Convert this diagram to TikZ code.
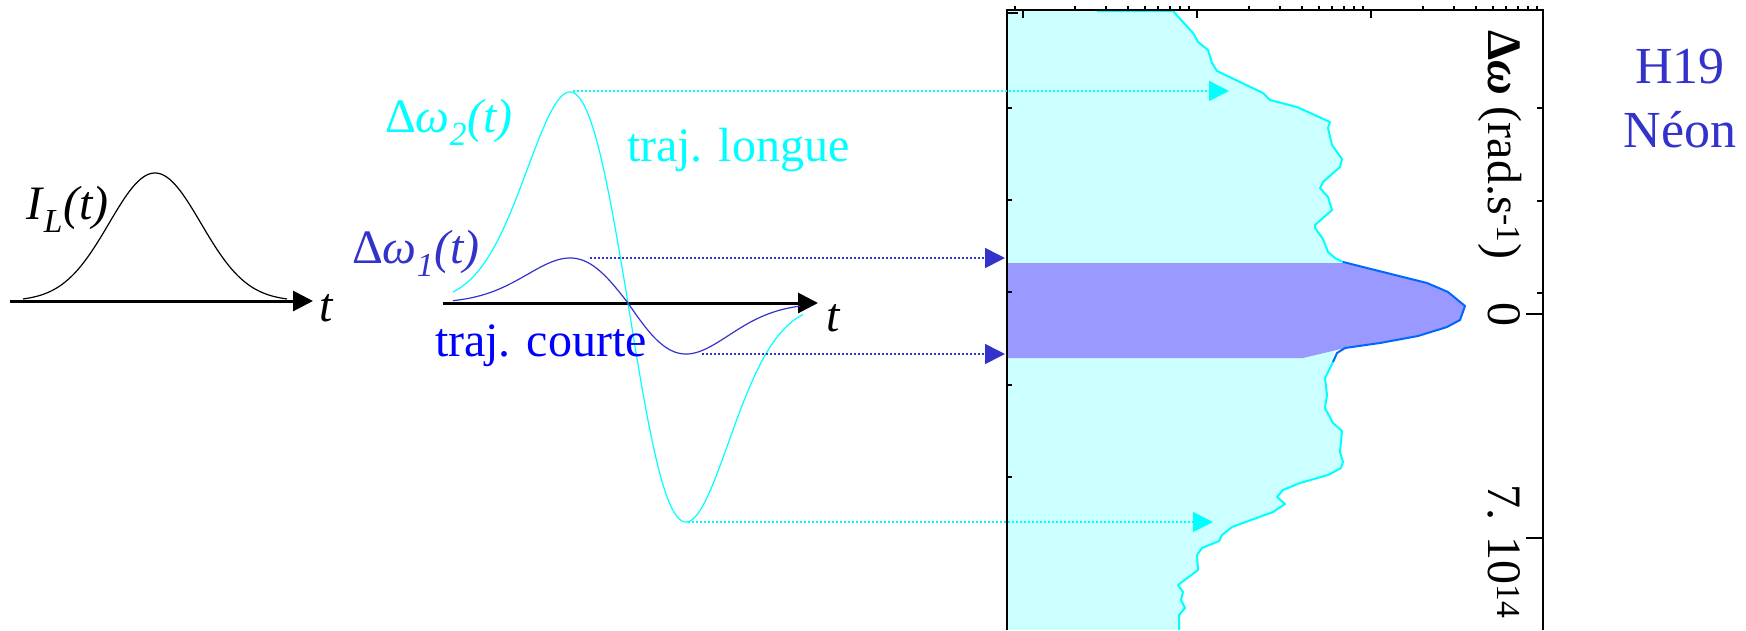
\documentclass[tikz,border=0pt]{standalone}
\usepackage{fontspec}
\setmainfont{Liberation Serif}
\usetikzlibrary{arrows.meta}
\definecolor{cyn}{RGB}{0,255,255}
\definecolor{dblue}{RGB}{51,51,204}
\definecolor{pblue}{RGB}{0,0,255}
\definecolor{lcyan}{RGB}{204,255,255}
\definecolor{lblue}{RGB}{153,153,255}
\definecolor{peakblue}{RGB}{0,102,255}
\begin{document}
\begin{tikzpicture}[x=1pt,y=-1pt,
  lbl/.style={inner sep=0pt, outer sep=0pt, anchor=base west, font=\fontsize{48}{58}\selectfont},
  vlbl/.style={inner sep=0pt, outer sep=0pt, rotate=-90, font=\fontsize{48}{58}\selectfont},
  axisarrow/.style={line width=3pt, -{Triangle[length=20pt,width=20pt]}},
  dotline/.style={line width=1.6pt, dash pattern=on 1.6pt off 2.4pt, -{Triangle[length=20pt,width=20pt]}},
  curve/.style={line width=1.2pt},
  framestyle/.style={line width=2pt},
  tickstyle/.style={line width=1.2pt}]
\useasboundingbox (0,0) rectangle (1746,630);

% ---------- left panel: laser intensity ----------
\coordinate (ax1s) at (10,301);
\coordinate (ax1e) at (313,301);
\draw[axisarrow] (ax1s) -- (ax1e);
\draw[curve] plot[domain=23:287, samples=120] (\x, {301-128*exp(-0.5*((\x-155)/46)^2)});
\node[lbl] (IL) at (26,219) {\textit{I}\textsubscript{\textit{L}}\textit{(t)}};
\node[lbl] (t1) at (319,321) {\textit{t}};

% ---------- middle panel: frequency shifts ----------
\coordinate (ax2s) at (443,303);
\coordinate (ax2e) at (818,303);
\draw[axisarrow] (ax2s) -- (ax2e);
\draw[curve, cyn] plot[domain=453:803, samples=160, smooth]
  (\x, {303 - ((\x<628) ? 211 : 219)*(-(\x-628)/58)*exp(-0.5*((\x-628)/58)^2)/0.6065});
\draw[curve, dblue] plot[domain=453:800, samples=160, smooth]
  (\x, {303 - ((\x<628) ? 45 : 51)*(-(\x-628)/58)*exp(-0.5*((\x-628)/58)^2)/0.6065});
\node[lbl] (t2) at (826,331) {\textit{t}};
\node[lbl, text=cyn] (dw2) at (385,132) {Δ\textit{ω}\textsubscript{\textit{2}}\textit{(t)}};
\node[lbl, text=cyn] (tl) at (627,161) {traj. longue};
\node[lbl, text=dblue] (dw1) at (352,263) {Δ\textit{ω}\textsubscript{\textit{1}}\textit{(t)}};
\node[lbl, text=pblue] (tc) at (435,356) {traj. courte};

% ---------- right panel: spectrum ----------
\fill[lcyan] (1008,10) -- (1173,10) -- (1193,33) -- (1198,42) -- (1208,50) -- (1212,63) -- (1217,71)
  -- (1263,93) -- (1270,100) -- (1297,107) -- (1330,122) -- (1328,128) -- (1332,145) -- (1342,159)
  -- (1340,167) -- (1323,182) -- (1320,188) -- (1328,197) -- (1332,210) -- (1315,225) -- (1315,228)
  -- (1323,239) -- (1328,252) -- (1335,258) -- (1343,262) -- (1333,362) -- (1325,378) -- (1327,395)
  -- (1325,408) -- (1333,423) -- (1342,431) -- (1340,452) -- (1343,462) -- (1341,468) -- (1328,475)
  -- (1300,483) -- (1283,490) -- (1277,497) -- (1285,504) -- (1273,512) -- (1232,527) -- (1222,535)
  -- (1219,541) -- (1202,548) -- (1197,555) -- (1198,570) -- (1178,585) -- (1183,592) -- (1181,600)
  -- (1185,608) -- (1179,615) -- (1179,630) -- (1008,630) -- cycle;
\fill[lblue] (1008,263) -- (1343,263) -- (1387,273) -- (1427,283) -- (1448,292) -- (1465,306)
  -- (1460,320) -- (1447,327) -- (1418,336) -- (1380,343) -- (1345,348) -- (1303,358) -- (1008,358) -- cycle;
\draw[cyn, line width=2pt, line join=round] (1097,11) -- (1173,11) -- (1193,33) -- (1198,42) -- (1208,50)
  -- (1212,63) -- (1217,71) -- (1263,93) -- (1270,100) -- (1297,107) -- (1330,122) -- (1328,128)
  -- (1332,145) -- (1342,159) -- (1340,167) -- (1323,182) -- (1320,188) -- (1328,197) -- (1332,210)
  -- (1315,225) -- (1315,228) -- (1323,239) -- (1328,252) -- (1335,258) -- (1343,262);
\draw[cyn, line width=2pt, line join=round] (1333,362) -- (1325,378) -- (1327,395) -- (1325,408)
  -- (1333,423) -- (1342,431) -- (1340,452) -- (1343,462) -- (1341,468) -- (1328,475) -- (1300,483)
  -- (1283,490) -- (1277,497) -- (1285,504) -- (1273,512) -- (1232,527) -- (1222,535) -- (1219,541)
  -- (1202,548) -- (1197,555) -- (1198,570) -- (1178,585) -- (1183,592) -- (1181,600) -- (1185,608)
  -- (1179,615) -- (1179,630);
\draw[peakblue, line width=2pt, line join=round] (1343,262) -- (1387,273) -- (1427,283) -- (1448,292)
  -- (1465,306) -- (1460,320) -- (1447,327) -- (1418,336) -- (1380,343) -- (1345,348) -- (1337,353) -- (1333,362);

% frame
\draw[framestyle] (1007,630) -- (1007,10) -- (1543,10) -- (1543,630);
% top ticks
\foreach \tx in {1023,1197,1371} \draw[tickstyle] (\tx,10) -- (\tx,18);
\foreach \tx in {1015,1075,1106,1128,1145,1158,1170,1180,1189,1249,1280,1302,1319,1332,1344,1354,1363,
  1423,1454,1476,1493,1506,1518,1528,1537} \draw[tickstyle] (\tx,10) -- (\tx,6);
% right ticks
\foreach \ty in {108,201,293} \draw[tickstyle] (1543,\ty) -- (1537,\ty);
\foreach \ty in {314,538} \draw[tickstyle] (1543,\ty) -- (1526,\ty);
% left ticks
\draw[tickstyle] (1007,13) -- (1018,13);
\foreach \ty in {108,200,292,385,477} \draw[tickstyle] (1007,\ty) -- (1012,\ty);

% axis labels
\node[vlbl, anchor=base west] (ylab) at (1488,30) {\textbf{Δ\textit{ω}} (rad.s\textsuperscript{-1})};
\node[vlbl, anchor=base] (zero) at (1488,314) {0};
\node[vlbl, anchor=base] (seven) at (1488,552) {7. 10\textsuperscript{14}};

% title
\node[inner sep=0pt, anchor=base, text=dblue, font=\fontsize{52}{64}\selectfont] (h19) at (1680,83) {H19};
\node[inner sep=0pt, anchor=base, text=dblue, font=\fontsize{52}{64}\selectfont] (neon) at (1680,147) {Néon};

% ---------- dotted projections ----------
\coordinate (c2max) at (573,91);
\coordinate (c2maxT) at (1229,91);
\coordinate (c1max) at (590,258);
\coordinate (c1maxT) at (1005,258);
\coordinate (c1min) at (702,354);
\coordinate (c1minT) at (1005,354);
\coordinate (c2min) at (688,522);
\coordinate (c2minT) at (1213,522);
\draw[dotline, cyn] (c2max) -- (c2maxT);
\draw[dotline, dblue] (c1max) -- (c1maxT);
\draw[dotline, dblue] (c1min) -- (c1minT);
\draw[dotline, cyn] (c2min) -- (c2minT);
\end{tikzpicture}
\end{document}
